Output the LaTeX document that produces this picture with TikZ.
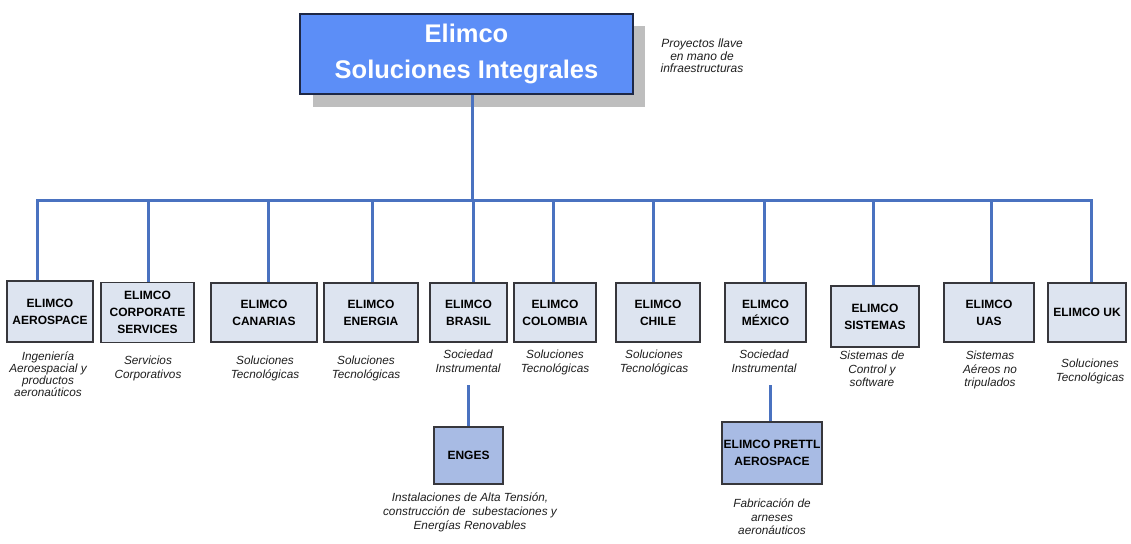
\documentclass[tikz,border=0pt]{standalone}
\usepackage{fontspec}
\setmainfont{Liberation Sans}
\definecolor{topfill}{RGB}{92,142,247}
\definecolor{topline}{RGB}{30,40,70}
\definecolor{shadowgray}{RGB}{190,190,190}
\definecolor{linkblue}{RGB}{74,114,192}
\definecolor{childfill}{RGB}{221,228,240}
\definecolor{childline}{RGB}{55,55,60}
\definecolor{subfill}{RGB}{168,187,228}
\definecolor{desctext}{RGB}{30,30,30}
\pgfdeclarelayer{bg}
\pgfsetlayers{bg,main}
\tikzset{
  link/.style={draw=linkblue, line width=3pt},
  childbox/.style={draw=childline, line width=1.3pt, fill=childfill, align=center,
    font=\fontsize{12}{17}\selectfont\bfseries, text=black, inner sep=1pt},
  subbox/.style={childbox, fill=subfill},
  desc/.style={align=center, anchor=north, inner sep=0pt, text=desctext,
    font=\fontsize{11.8}{13.6}\selectfont\itshape},
}
\begin{document}
\begin{tikzpicture}[x=1pt,y=-1pt]
\useasboundingbox (0,0) rectangle (1131,543);
\node[draw=topline, line width=1.3pt, fill=topfill, minimum width=333, minimum height=80,
  text=white, font=\fontsize{25.5}{37}\selectfont\bfseries, align=center, inner sep=0pt]
  (top) at (466.5,54) {\raisebox{-5pt}{Elimco}\\[2pt]\raisebox{-2pt}{Soluciones Integrales}};
\node[align=center, inner sep=0pt, font=\fontsize{12}{12.5}\selectfont\itshape, text=desctext]
  (proy) at (702,56) {Proyectos llave\\en mano de\\infraestructuras};

% children boxes
\node[childbox, minimum width=86, minimum height=61] (aero) at (50,311.5) {ELIMCO\\AEROSPACE};
\node[childbox, minimum width=93, minimum height=60] (corp) at (147.5,312.5) {ELIMCO\\CORPORATE\\SERVICES};
\node[childbox, minimum width=106, minimum height=59] (cana) at (264,312.5) {ELIMCO\\CANARIAS};
\node[childbox, minimum width=94, minimum height=59] (ener) at (371,312.5) {ELIMCO\\ENERGIA};
\node[childbox, minimum width=77, minimum height=59] (bras) at (468.5,312.5) {ELIMCO\\BRASIL};
\node[childbox, minimum width=82, minimum height=59] (colo) at (555,312.5) {ELIMCO\\COLOMBIA};
\node[childbox, minimum width=84, minimum height=59] (chil) at (658,312.5) {ELIMCO\\CHILE};
\node[childbox, minimum width=81, minimum height=59] (mexi) at (765.5,312.5) {ELIMCO\\MÉXICO};
\node[childbox, minimum width=88, minimum height=61] (sist) at (875,316.5) {ELIMCO\\SISTEMAS};
\node[childbox, minimum width=90, minimum height=59] (uas) at (989,312.5) {ELIMCO\\UAS};
\node[childbox, minimum width=78, minimum height=59] (uk) at (1087,312.5) {ELIMCO UK};

% sub boxes
\node[subbox, minimum width=69, minimum height=57] (enges) at (468.5,455.5) {ENGES};
\node[subbox, minimum width=100, minimum height=62] (prettl) at (772,453) {ELIMCO PRETTL\\AEROSPACE};

% descriptions
\node[desc, font=\fontsize{11.8}{12}\selectfont\itshape] (daero) at (48,352) {Ingeniería\\Aeroespacial y\\productos\\aeronaúticos};
\node[desc] (dcorp) at (148,356) {Servicios\\Corporativos};
\node[desc] (dcana) at (265,356) {Soluciones\\Tecnológicas};
\node[desc] (dener) at (366,356) {Soluciones\\Tecnológicas};
\node[desc] (dbras) at (468,350) {Sociedad\\Instrumental};
\node[desc] (dcolo) at (555,350) {Soluciones\\Tecnológicas};
\node[desc] (dchil) at (654,350) {Soluciones\\Tecnológicas};
\node[desc] (dmexi) at (764,350) {Sociedad\\Instrumental};
\node[desc] (dsist) at (872,351) {Sistemas de\\Control y\\software};
\node[desc] (duas) at (990,351) {Sistemas\\Aéreos no\\tripulados};
\node[desc] (duk) at (1090,359) {Soluciones\\Tecnológicas};
\node[desc, font=\fontsize{11.8}{14}\selectfont\itshape] (denges) at (470,493) {Instalaciones de Alta Tensión,\\construcción de~ subestaciones y\\Energías Renovables};
\node[desc, font=\fontsize{11.8}{13.5}\selectfont\itshape] (dprettl) at (772,499) {Fabricación de\\arneses\\aeronáuticos};

% connectors
\coordinate (t) at (472,200);
\coordinate (bL) at (37,200);
\coordinate (bR) at (1091,200);
\coordinate (c1) at (37,200);
\coordinate (c2) at (148,200);
\coordinate (c3) at (268,200);
\coordinate (c4) at (372,200);
\coordinate (c5) at (473,200);
\coordinate (c6) at (553,200);
\coordinate (c7) at (653,200);
\coordinate (c8) at (764,200);
\coordinate (c9) at (873,200);
\coordinate (c10) at (991,200);
\coordinate (c11) at (1091,200);
\coordinate (e0) at (468,385);
\coordinate (p0) at (770,385);
\begin{pgfonlayer}{bg}
\fill[shadowgray] (313,26) rectangle (645,107);
\draw[link] (t |- top.south) -- (t);
\draw[link, line cap=rect] (bL) -- (bR);
\draw[link] (c1) -- (c1 |- aero.north);
\draw[link] (c2) -- (c2 |- corp.north);
\draw[link] (c3) -- (c3 |- cana.north);
\draw[link] (c4) -- (c4 |- ener.north);
\draw[link] (c5) -- (c5 |- bras.north);
\draw[link] (c6) -- (c6 |- colo.north);
\draw[link] (c7) -- (c7 |- chil.north);
\draw[link] (c8) -- (c8 |- mexi.north);
\draw[link] (c9) -- (c9 |- sist.north);
\draw[link] (c10) -- (c10 |- uas.north);
\draw[link] (c11) -- (c11 |- uk.north);
\draw[link] (e0) -- (e0 |- enges.north);
\draw[link] (p0) -- (p0 |- prettl.north);
\end{pgfonlayer}
\end{tikzpicture}
\end{document}
